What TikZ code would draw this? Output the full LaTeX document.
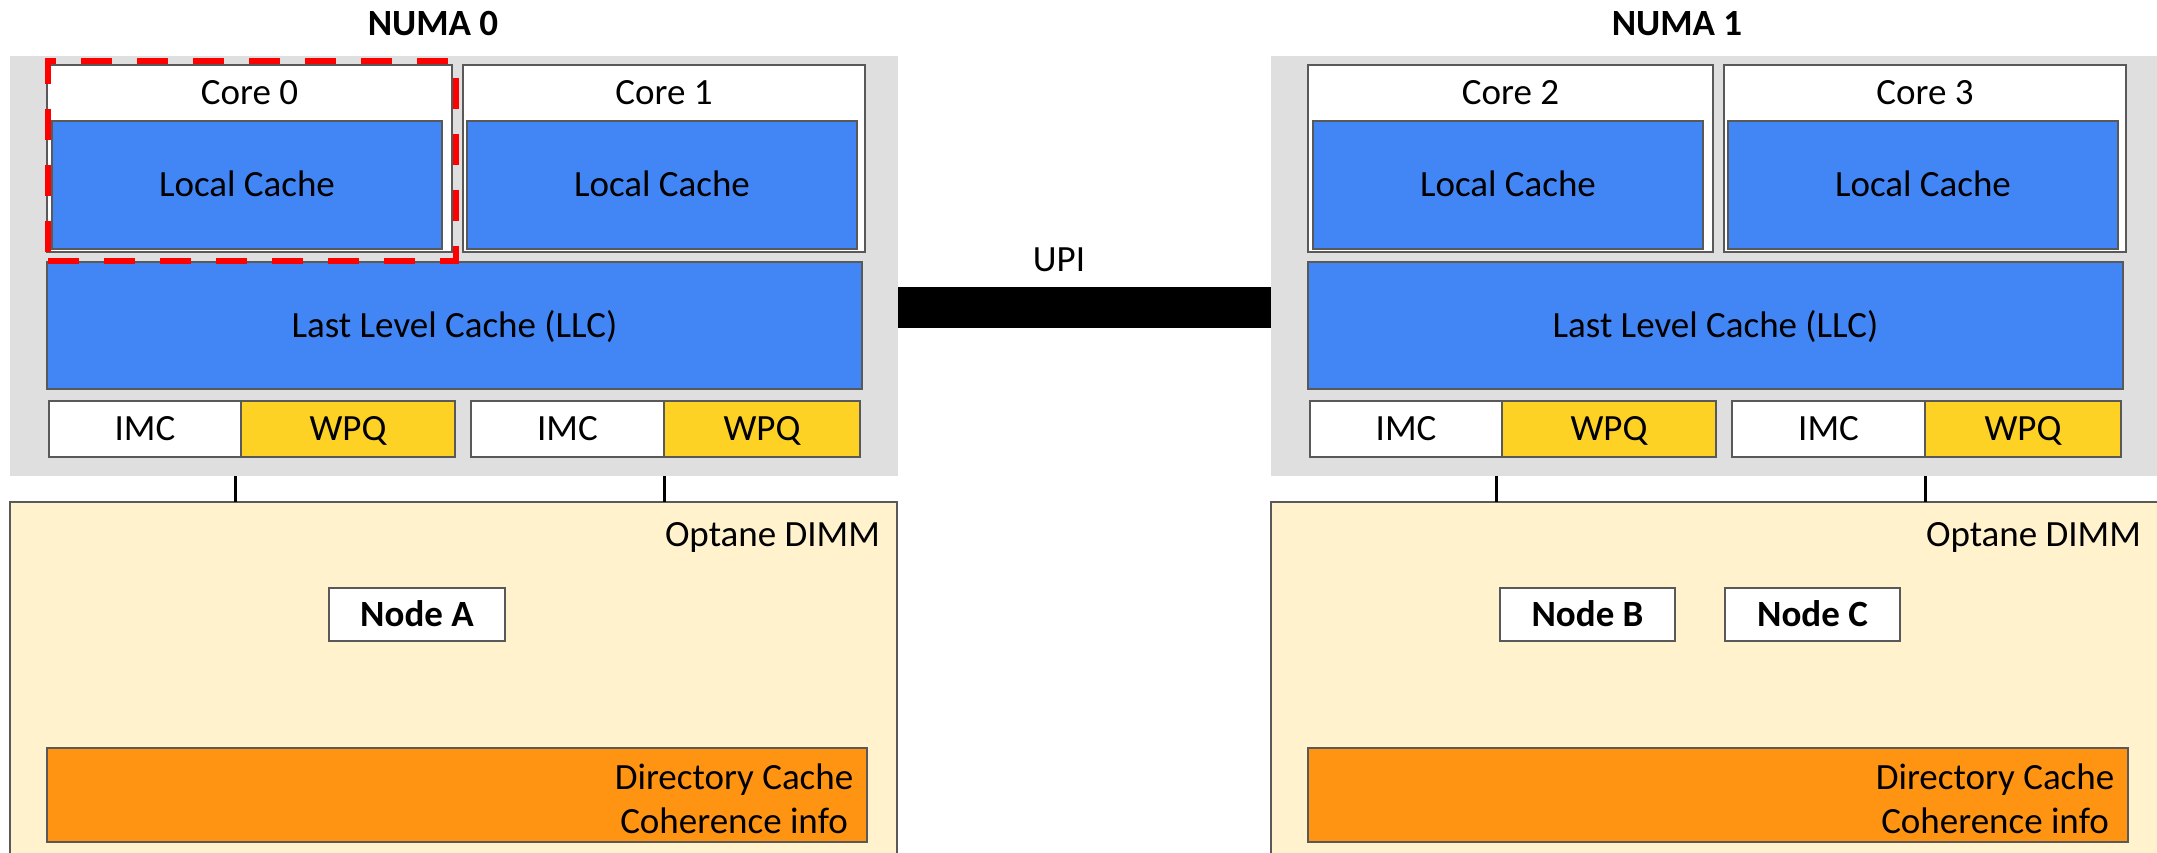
\documentclass[tikz,border=0pt]{standalone}
\usepackage{fontspec}
\setmainfont{Carlito}
\definecolor{panelgray}{HTML}{DFDFDF}
\definecolor{cacheblue}{HTML}{4285F4}
\definecolor{wpqyellow}{HTML}{FDD225}
\definecolor{dirorange}{HTML}{FE9411}
\definecolor{dimmcream}{HTML}{FFF2CC}
\definecolor{edgegray}{HTML}{595959}
\newcommand\figfont{\fontsize{37}{44}\selectfont}
\tikzset{
  boxbase/.style={inner sep=0pt, outer sep=0pt, text height=23.4pt, text depth=0pt},
  txt/.style={boxbase},
  heading/.style={boxbase, font=\figfont\bfseries},
  panelbox/.style={boxbase, fill=panelgray},
  unitbox/.style={boxbase, draw=edgegray, line width=1.6pt},
  corebox/.style={unitbox, fill=white},
  cachebox/.style={unitbox, fill=cacheblue},
  imcbox/.style={unitbox, fill=white},
  wpqbox/.style={unitbox, fill=wpqyellow},
  dimmbox/.style={unitbox, fill=dimmcream},
  dirbox/.style={unitbox, fill=dirorange},
  membox/.style={unitbox, fill=white, font=\figfont\bfseries},
  buswire/.style={line width=3pt, black},
  upilink/.style={line width=41pt, black},
  hilite/.style={boxbase, draw=red, line width=6pt, dash pattern=on 31pt off 25pt},
}
% One NUMA socket: #1 name suffix, #2/#3 core numbers, #4 horizontal offset (pt)
\newcommand\numapanel[4]{%
\begin{scope}[xshift=#4pt]
  \node[panelbox, minimum width=888pt, minimum height=420pt] (gray#1) at (454,266) {};
  \node[dimmbox, minimum width=887pt, minimum height=400pt] (dimm#1) at (453.5,702) {};
  % cores with their private caches
  \node[corebox, minimum width=405pt, minimum height=187pt] (coreA#1) at (249.5,158.5) {};
  \node[txt] (coreAlbl#1) at (249.5,93) {Core #2};
  \node[cachebox, minimum width=390pt, minimum height=128pt] (lcA#1) at (247,185) {Local Cache};
  \node[corebox, minimum width=402pt, minimum height=187pt] (coreB#1) at (664,158.5) {};
  \node[txt] (coreBlbl#1) at (664,93) {Core #3};
  \node[cachebox, minimum width=390pt, minimum height=128pt] (lcB#1) at (662,185) {Local Cache};
  % shared cache and memory controllers
  \node[cachebox, minimum width=815pt, minimum height=127pt] (llc#1) at (454.5,325.5) {Last Level Cache (LLC)};
  \node[imcbox, minimum width=192pt, minimum height=56pt] (imcA#1) at (145,429) {IMC};
  \node[wpqbox, minimum width=214pt, minimum height=56pt] (wpqA#1) at (348,429) {WPQ};
  \node[imcbox, minimum width=193pt, minimum height=56pt] (imcB#1) at (567.5,429) {IMC};
  \node[wpqbox, minimum width=196pt, minimum height=56pt] (wpqB#1) at (762,429) {WPQ};
  % memory channels down to the DIMM
  \coordinate (tapA#1) at (235,0);
  \coordinate (tapB#1) at (664,0);
  \draw[buswire] (tapA#1 |- gray#1.south) -- (tapA#1 |- dimm#1.north);
  \draw[buswire] (tapB#1 |- gray#1.south) -- (tapB#1 |- dimm#1.north);
  % persistent memory contents
  \node[txt, anchor=east] (dimmlbl#1) at (880,535) {Optane DIMM};
  \node[dirbox, minimum width=820pt, minimum height=94pt] (dir#1) at (457,795) {};
  \node[boxbase, anchor=base] (dirtop#1) at (734,789) {Directory Cache};
  \node[boxbase, anchor=base] (dirbot#1) at (734,833) {Coherence info};
\end{scope}}
\begin{document}
\begin{tikzpicture}[x=1pt, y=-1pt, font=\figfont]
  \useasboundingbox (0,0) rectangle (2157,852);
  \clip (0,0) rectangle (2157,852);

  \numapanel{0}{0}{1}{0}
  \numapanel{1}{2}{3}{1261}

  \node[heading] (numa0) at (433,23.5) {NUMA 0};
  \node[heading] (numa1) at (1677,23.5) {NUMA 1};

  % data placed in each socket's DIMM
  \node[membox, minimum width=176pt, minimum height=53pt] (nodeA) at (417,614.5) {Node A};
  \node[membox, minimum width=175pt, minimum height=53pt] (nodeB) at (1587.5,614.5) {Node B};
  \node[membox, minimum width=175pt, minimum height=53pt] (nodeC) at (1812.5,614.5) {Node C};

  % inter-socket link
  \coordinate (upiy) at (0,307.5);
  \draw[upilink] (gray0.east |- upiy) -- (gray1.west |- upiy);
  \node[txt] (upilbl) at (1059,260) {UPI};

  % highlighted core
  \node[hilite, minimum width=408pt, minimum height=200pt] (sel0) at (252,161) {};
\end{tikzpicture}
\end{document}
